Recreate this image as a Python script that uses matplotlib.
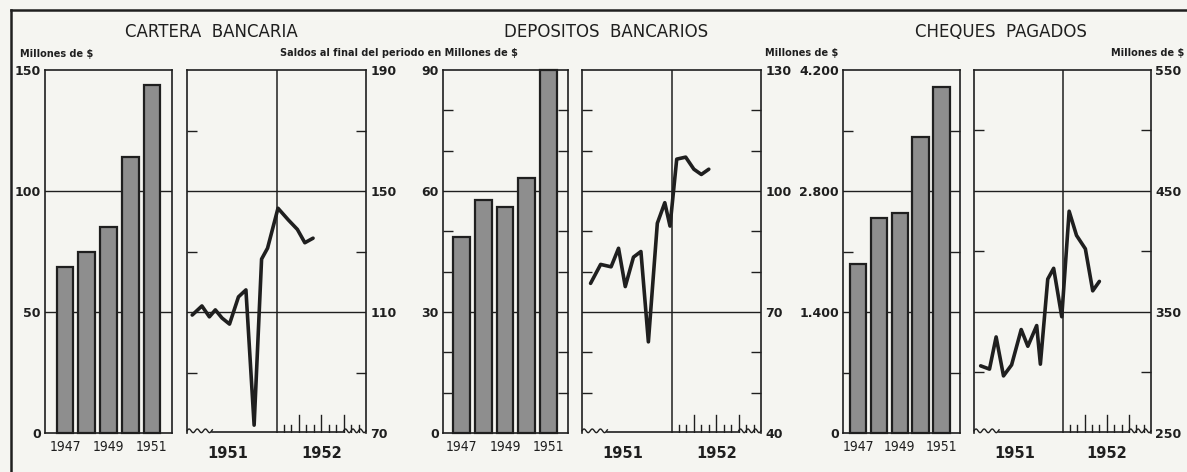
import numpy as np
import matplotlib
matplotlib.use('Agg')
import matplotlib.pyplot as plt
from matplotlib.lines import Line2D

# datos anuales (barras)
anios = ['1947', '1948', '1949', '1950', '1951']
etiquetas_anios = ['1947', '', '1949', '', '1951']
cartera_anual = [68.5, 74.8, 85, 114, 144]
depositos_anual = [48.6, 57.8, 56, 63.2, 90]
cheques_anual = [1955, 2490, 2545, 3425, 4005]

# datos mensuales 1951-1952 (posicion en meses desde enero 1951)
cartera_meses = [0.7, 2.0, 3.0, 3.8, 4.7, 5.7, 6.9, 7.9, 9.0, 10.0, 10.8, 12.2, 13.6, 14.8, 15.8, 16.9]
cartera_mensual = [109.0, 112.0, 108.4, 110.7, 108.0, 106.0, 115.0, 117.3, 72.6, 127.5, 131.1,
                   144.3, 140.4, 137.3, 132.9, 134.4]

depositos_meses = [1.15, 2.5, 3.9, 4.9, 5.8, 6.9, 7.9, 8.9, 10.1, 11.1, 11.8, 12.7, 13.9, 15.0, 16.0, 17.0]
depositos_mensual = [77.1, 81.8, 81.2, 85.8, 76.3, 83.6, 85.0, 62.6, 92.0, 97.1, 91.3,
                     107.9, 108.4, 105.4, 104.1, 105.4]

cheques_meses = [0.9, 2.1, 3.0, 4.0, 5.1, 6.4, 7.3, 8.5, 9.0, 10.0, 10.8, 11.9, 12.9, 13.9, 15.1, 16.1, 17.0]
cheques_mensual = [305.5, 302.8, 329.4, 297.2, 306.3, 335.5, 321.7, 338.8, 306.9, 377.2, 386.1,
                   346.1, 433.3, 413.3, 402.2, 367.5, 375.3]

etiquetas_meses = ['1951', '1952']

W, H = 1187, 472
fondo = '#f5f5f1'
tinta = '#1f1f1f'

plt.rcParams['font.family'] = ['DejaVu Sans']

fig = plt.figure(figsize=(W / 100, H / 100), dpi=100, facecolor=fondo)


def crear_ejes(x0, x1):
    ax = fig.add_axes([x0 / W, 1 - 433 / H, (x1 - x0) / W, 363 / H])
    ax.set_facecolor(fondo)
    for s in ax.spines.values():
        s.set_color(tinta)
        s.set_linewidth(1.2)
    return ax


def panel_barras(ax, valores, ymax, mayores, menores, etiquetas, xlim):
    ax.bar(range(len(valores)), valores, width=0.78, color='#8e8e8e',
           edgecolor=tinta, linewidth=1.6, zorder=3, clip_on=False)
    for v in mayores[1:-1]:
        ax.axhline(v, color=tinta, lw=1.0, zorder=1)
    ax.set_ylim(0, ymax)
    ax.set_xlim(*xlim)
    ax.set_yticks(mayores)
    ax.set_yticklabels(etiquetas, fontsize=9, fontweight='bold', color=tinta)
    ax.set_yticks(menores, minor=True)
    ax.tick_params(axis='y', which='major', length=0, pad=3)
    ax.tick_params(axis='y', which='minor', direction='in', left=True, right=True,
                   length=7, width=1, color=tinta)
    ax.set_xticks(range(len(anios)))
    ax.set_xticklabels(etiquetas_anios, fontsize=10, fontstretch='condensed', color=tinta)
    ax.tick_params(axis='x', length=0, pad=5)


def panel_lineas(ax, meses, valores, ymin, ymax, mayores, menores, etiquetas):
    ax.plot(meses, valores, color=tinta, lw=2.6, solid_joinstyle='round',
            solid_capstyle='round', zorder=4)
    for v in mayores[1:-1]:
        ax.axhline(v, color=tinta, lw=1.0, zorder=1)
    ax.axvline(12, color=tinta, lw=1.1, zorder=1)
    ax.set_xlim(0, 24)
    ax.set_ylim(ymin, ymax)
    ax.yaxis.tick_right()
    ax.set_yticks(mayores)
    ax.set_yticklabels(etiquetas, fontsize=9, fontweight='bold', color=tinta)
    ax.set_yticks(menores, minor=True)
    ax.tick_params(axis='y', which='major', length=0, pad=3)
    ax.tick_params(axis='y', which='minor', direction='in', left=True, right=True,
                   length=7, width=1, color=tinta)
    ax.set_xticks([5.5, 18])
    ax.set_xticklabels(etiquetas_meses, fontsize=10.5, fontweight='bold', color=tinta)
    ax.tick_params(axis='x', length=0, pad=9)
    # eje inferior con cortes ondulados y marcas mensuales de 1952
    ax.spines['bottom'].set_visible(False)
    tr = ax.get_xaxis_transform()
    xw = np.linspace(0, 3.4, 60)
    ax.plot(xw, 0.006 + 0.005 * np.sin(xw / 1.1 * 2 * np.pi), color=tinta, lw=1.0,
            transform=tr, clip_on=False)
    ax.plot([3.4, 21.0], [0.004, 0.004], color=tinta, lw=1.2, transform=tr, clip_on=False)
    xw = np.linspace(21.0, 24, 60)
    ax.plot(xw, 0.006 + 0.005 * np.sin((xw - 21.0) / 1.0 * 2 * np.pi), color=tinta, lw=1.0,
            transform=tr, clip_on=False)
    for m in range(13, 24):
        alto = 0.05 if m in (15, 18, 21) else 0.022
        ax.plot([m, m], [0.004, alto], color=tinta, lw=1.0, transform=tr)


ax1 = crear_ejes(45, 172)
panel_barras(ax1, cartera_anual, 150, [0, 50, 100, 150], [], ['0', '50', '100', '150'],
             (-0.92, 4.92))
ax2 = crear_ejes(187, 366)
panel_lineas(ax2, cartera_meses, cartera_mensual, 70, 190, [70, 110, 150, 190],
             [90, 130, 170], ['70', '110', '150', '190'])

ax3 = crear_ejes(443, 568)
panel_barras(ax3, depositos_anual, 90, [0, 30, 60, 90], [10, 20, 40, 50, 70, 80],
             ['0', '30', '60', '90'], (-0.86, 4.91))
ax4 = crear_ejes(582, 761)
panel_lineas(ax4, depositos_meses, depositos_mensual, 40, 130, [40, 70, 100, 130],
             [50, 60, 80, 90, 110, 120], ['40', '70', '100', '130'])

ax5 = crear_ejes(843, 960)
panel_barras(ax5, cheques_anual, 4200, [0, 1400, 2800, 4200], [700, 2100, 3500],
             ['0', '1.400', '2.800', '4.200'], (-0.72, 4.89))
ax6 = crear_ejes(974, 1151)
panel_lineas(ax6, cheques_meses, cheques_mensual, 250, 550, [250, 350, 450, 550],
             [300, 400, 500], ['250', '350', '450', '550'])

# titulos y rotulos
def texto(x, y, s, **kw):
    fig.text(x / W, 1 - y / H, s, color=tinta, va='center', **kw)


texto(211, 32, 'CARTERA  BANCARIA', fontsize=12, ha='center')
texto(606, 32, 'DEPOSITOS  BANCARIOS', fontsize=12, ha='center')
texto(1001, 32, 'CHEQUES  PAGADOS', fontsize=12, ha='center')
texto(20, 54, 'Millones de $', fontsize=7, fontweight='bold', ha='left')
texto(399, 53, 'Saldos al final del periodo en Millones de $', fontsize=7,
      fontweight='bold', ha='center')
texto(802, 53, 'Millones de $', fontsize=7, fontweight='bold', ha='center')
texto(1184, 53, 'Millones de $', fontsize=7, fontweight='bold', ha='right')

# marco exterior
fig.add_artist(Line2D([11 / W, 1], [1 - 10 / H, 1 - 10 / H], transform=fig.transFigure,
                      color=tinta, lw=1.8))
fig.add_artist(Line2D([11 / W, 11 / W], [0, 1 - 10 / H], transform=fig.transFigure,
                      color=tinta, lw=1.8))

fig.savefig('out.png', dpi=100, facecolor=fondo)
